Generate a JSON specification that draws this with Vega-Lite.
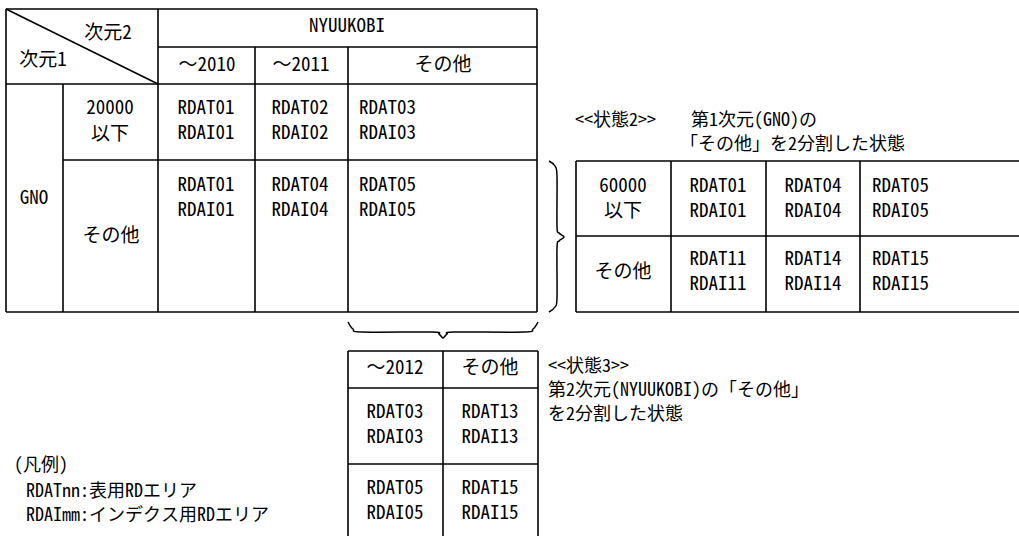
{
  "$schema": "https://vega.github.io/schema/vega-lite/v6.json",
  "width": 1019,
  "height": 536,
  "padding": 0,
  "autosize": {"type": "none"},
  "background": "white",
  "config": {"view": {"stroke": null}},
  "datasets": {
    "lines": [
      {"x": 6, "y": 9, "x2": 537, "y2": 9},
      {"x": 6, "y": 312, "x2": 537, "y2": 312},
      {"x": 6, "y": 9, "x2": 6, "y2": 312},
      {"x": 537, "y": 9, "x2": 537, "y2": 312},
      {"x": 158, "y": 9, "x2": 158, "y2": 312},
      {"x": 63, "y": 84, "x2": 63, "y2": 312},
      {"x": 255, "y": 47, "x2": 255, "y2": 312},
      {"x": 348, "y": 47, "x2": 348, "y2": 312},
      {"x": 158, "y": 47, "x2": 537, "y2": 47},
      {"x": 6, "y": 84, "x2": 537, "y2": 84},
      {"x": 63, "y": 160, "x2": 537, "y2": 160},
      {"x": 6, "y": 9, "x2": 158, "y2": 84},
      {"x": 576, "y": 161, "x2": 1019, "y2": 161},
      {"x": 576, "y": 236, "x2": 1019, "y2": 236},
      {"x": 576, "y": 312, "x2": 1019, "y2": 312},
      {"x": 576, "y": 161, "x2": 576, "y2": 312},
      {"x": 671, "y": 161, "x2": 671, "y2": 312},
      {"x": 766, "y": 161, "x2": 766, "y2": 312},
      {"x": 860, "y": 161, "x2": 860, "y2": 312},
      {"x": 348, "y": 351, "x2": 538, "y2": 351},
      {"x": 348, "y": 388, "x2": 538, "y2": 388},
      {"x": 348, "y": 464, "x2": 538, "y2": 464},
      {"x": 348, "y": 351, "x2": 348, "y2": 536},
      {"x": 443, "y": 351, "x2": 443, "y2": 536},
      {"x": 538, "y": 351, "x2": 538, "y2": 536}
    ],
    "braces": [
      {"id": "b1", "o": 1, "x": 549, "y": 161},
      {"id": "b1", "o": 2, "x": 555, "y": 166},
      {"id": "b1", "o": 3, "x": 557, "y": 176},
      {"id": "b1", "o": 4, "x": 557, "y": 226},
      {"id": "b1", "o": 5, "x": 559, "y": 233},
      {"id": "b1", "o": 6, "x": 564, "y": 237},
      {"id": "b1", "o": 7, "x": 559, "y": 241},
      {"id": "b1", "o": 8, "x": 557, "y": 248},
      {"id": "b1", "o": 9, "x": 557, "y": 298},
      {"id": "b1", "o": 10, "x": 555, "y": 307},
      {"id": "b1", "o": 11, "x": 549, "y": 312},
      {"id": "b2", "o": 1, "x": 348, "y": 322},
      {"id": "b2", "o": 2, "x": 353, "y": 329},
      {"id": "b2", "o": 3, "x": 362, "y": 332},
      {"id": "b2", "o": 4, "x": 432, "y": 332},
      {"id": "b2", "o": 5, "x": 439, "y": 334},
      {"id": "b2", "o": 6, "x": 443, "y": 338},
      {"id": "b2", "o": 7, "x": 447, "y": 334},
      {"id": "b2", "o": 8, "x": 454, "y": 332},
      {"id": "b2", "o": 9, "x": 524, "y": 332},
      {"id": "b2", "o": 10, "x": 533, "y": 329},
      {"id": "b2", "o": 11, "x": 538, "y": 322}
    ],
    "ctext": [
      {"t": "次元2", "x": 108, "y": 33},
      {"t": "次元1", "x": 43, "y": 60},
      {"t": "NYUUKOBI", "x": 347, "y": 26},
      {"t": "～2010", "x": 207, "y": 65},
      {"t": "～2011", "x": 301, "y": 65},
      {"t": "その他", "x": 443, "y": 65},
      {"t": "20000", "x": 110, "y": 108},
      {"t": "以下", "x": 110, "y": 134},
      {"t": "RDAT01", "x": 206, "y": 108},
      {"t": "RDAI01", "x": 206, "y": 133},
      {"t": "RDAT02", "x": 300, "y": 108},
      {"t": "RDAI02", "x": 300, "y": 133},
      {"t": "GNO", "x": 34, "y": 198},
      {"t": "その他", "x": 111, "y": 236},
      {"t": "RDAT01", "x": 206, "y": 185},
      {"t": "RDAI01", "x": 206, "y": 210},
      {"t": "RDAT04", "x": 300, "y": 185},
      {"t": "RDAI04", "x": 300, "y": 210},
      {"t": "60000", "x": 623, "y": 186},
      {"t": "以下", "x": 623, "y": 211},
      {"t": "RDAT01", "x": 718, "y": 186},
      {"t": "RDAI01", "x": 718, "y": 211},
      {"t": "RDAT04", "x": 813, "y": 186},
      {"t": "RDAI04", "x": 813, "y": 211},
      {"t": "その他", "x": 623, "y": 272},
      {"t": "RDAT11", "x": 718, "y": 259},
      {"t": "RDAI11", "x": 718, "y": 284},
      {"t": "RDAT14", "x": 813, "y": 259},
      {"t": "RDAI14", "x": 813, "y": 284},
      {"t": "～2012", "x": 395, "y": 368},
      {"t": "その他", "x": 490, "y": 368},
      {"t": "RDAT03", "x": 395, "y": 412},
      {"t": "RDAI03", "x": 395, "y": 437},
      {"t": "RDAT13", "x": 490, "y": 412},
      {"t": "RDAI13", "x": 490, "y": 437},
      {"t": "RDAT05", "x": 395, "y": 488},
      {"t": "RDAI05", "x": 395, "y": 513},
      {"t": "RDAT15", "x": 490, "y": 488},
      {"t": "RDAI15", "x": 490, "y": 513}
    ],
    "ltext": [
      {"t": "RDAT03", "x": 359, "y": 108},
      {"t": "RDAI03", "x": 359, "y": 133},
      {"t": "RDAT05", "x": 359, "y": 185},
      {"t": "RDAI05", "x": 359, "y": 210},
      {"t": "RDAT05", "x": 872, "y": 186},
      {"t": "RDAI05", "x": 872, "y": 211},
      {"t": "RDAT15", "x": 872, "y": 259},
      {"t": "RDAI15", "x": 872, "y": 284}
    ],
    "notes": [
      {"t": "<<状態2>>", "x": 575, "y": 121},
      {"t": "第1次元(GNO)の", "x": 691, "y": 121},
      {"t": "「その他」を2分割した状態", "x": 680, "y": 145},
      {"t": "<<状態3>>", "x": 548, "y": 367},
      {"t": "第2次元(NYUUKOBI)の「その他」", "x": 548, "y": 391},
      {"t": "を2分割した状態", "x": 548, "y": 415},
      {"t": "(凡例)", "x": 14, "y": 466},
      {"t": "RDATnn:表用RDエリア", "x": 26, "y": 492},
      {"t": "RDAImm:インデクス用RDエリア", "x": 26, "y": 516}
    ]
  },
  "layer": [
    {
      "data": {"name": "lines"},
      "mark": {"type": "rule", "stroke": "#000000", "strokeWidth": 1.6},
      "encoding": {
        "x": {"field": "x", "type": "quantitative", "scale": {"domain": [0, 1019], "nice": false, "zero": false}, "axis": null},
        "y": {"field": "y", "type": "quantitative", "scale": {"domain": [0, 536], "nice": false, "zero": false, "reverse": true}, "axis": null},
        "x2": {"field": "x2"},
        "y2": {"field": "y2"}
      }
    },
    {
      "data": {"name": "braces"},
      "mark": {"type": "line", "stroke": "#000000", "strokeWidth": 1.5, "interpolate": "cardinal"},
      "encoding": {
        "x": {"field": "x", "type": "quantitative"},
        "y": {"field": "y", "type": "quantitative"},
        "detail": {"field": "id", "type": "nominal"},
        "order": {"field": "o", "type": "quantitative"}
      }
    },
    {
      "data": {"name": "ctext"},
      "mark": {"type": "text", "align": "center", "baseline": "middle", "font": "Noto Sans Mono CJK JP, Noto Sans CJK JP", "fontSize": 19, "fill": "#000000"},
      "encoding": {
        "x": {"field": "x", "type": "quantitative"},
        "y": {"field": "y", "type": "quantitative"},
        "text": {"field": "t", "type": "nominal"}
      }
    },
    {
      "data": {"name": "ltext"},
      "mark": {"type": "text", "align": "left", "baseline": "middle", "font": "Noto Sans Mono CJK JP, Noto Sans CJK JP", "fontSize": 19, "fill": "#000000"},
      "encoding": {
        "x": {"field": "x", "type": "quantitative"},
        "y": {"field": "y", "type": "quantitative"},
        "text": {"field": "t", "type": "nominal"}
      }
    },
    {
      "data": {"name": "notes"},
      "mark": {"type": "text", "align": "left", "baseline": "middle", "font": "Noto Sans Mono CJK JP, Noto Sans CJK JP", "fontSize": 18, "fill": "#000000"},
      "encoding": {
        "x": {"field": "x", "type": "quantitative"},
        "y": {"field": "y", "type": "quantitative"},
        "text": {"field": "t", "type": "nominal"}
      }
    }
  ]
}
